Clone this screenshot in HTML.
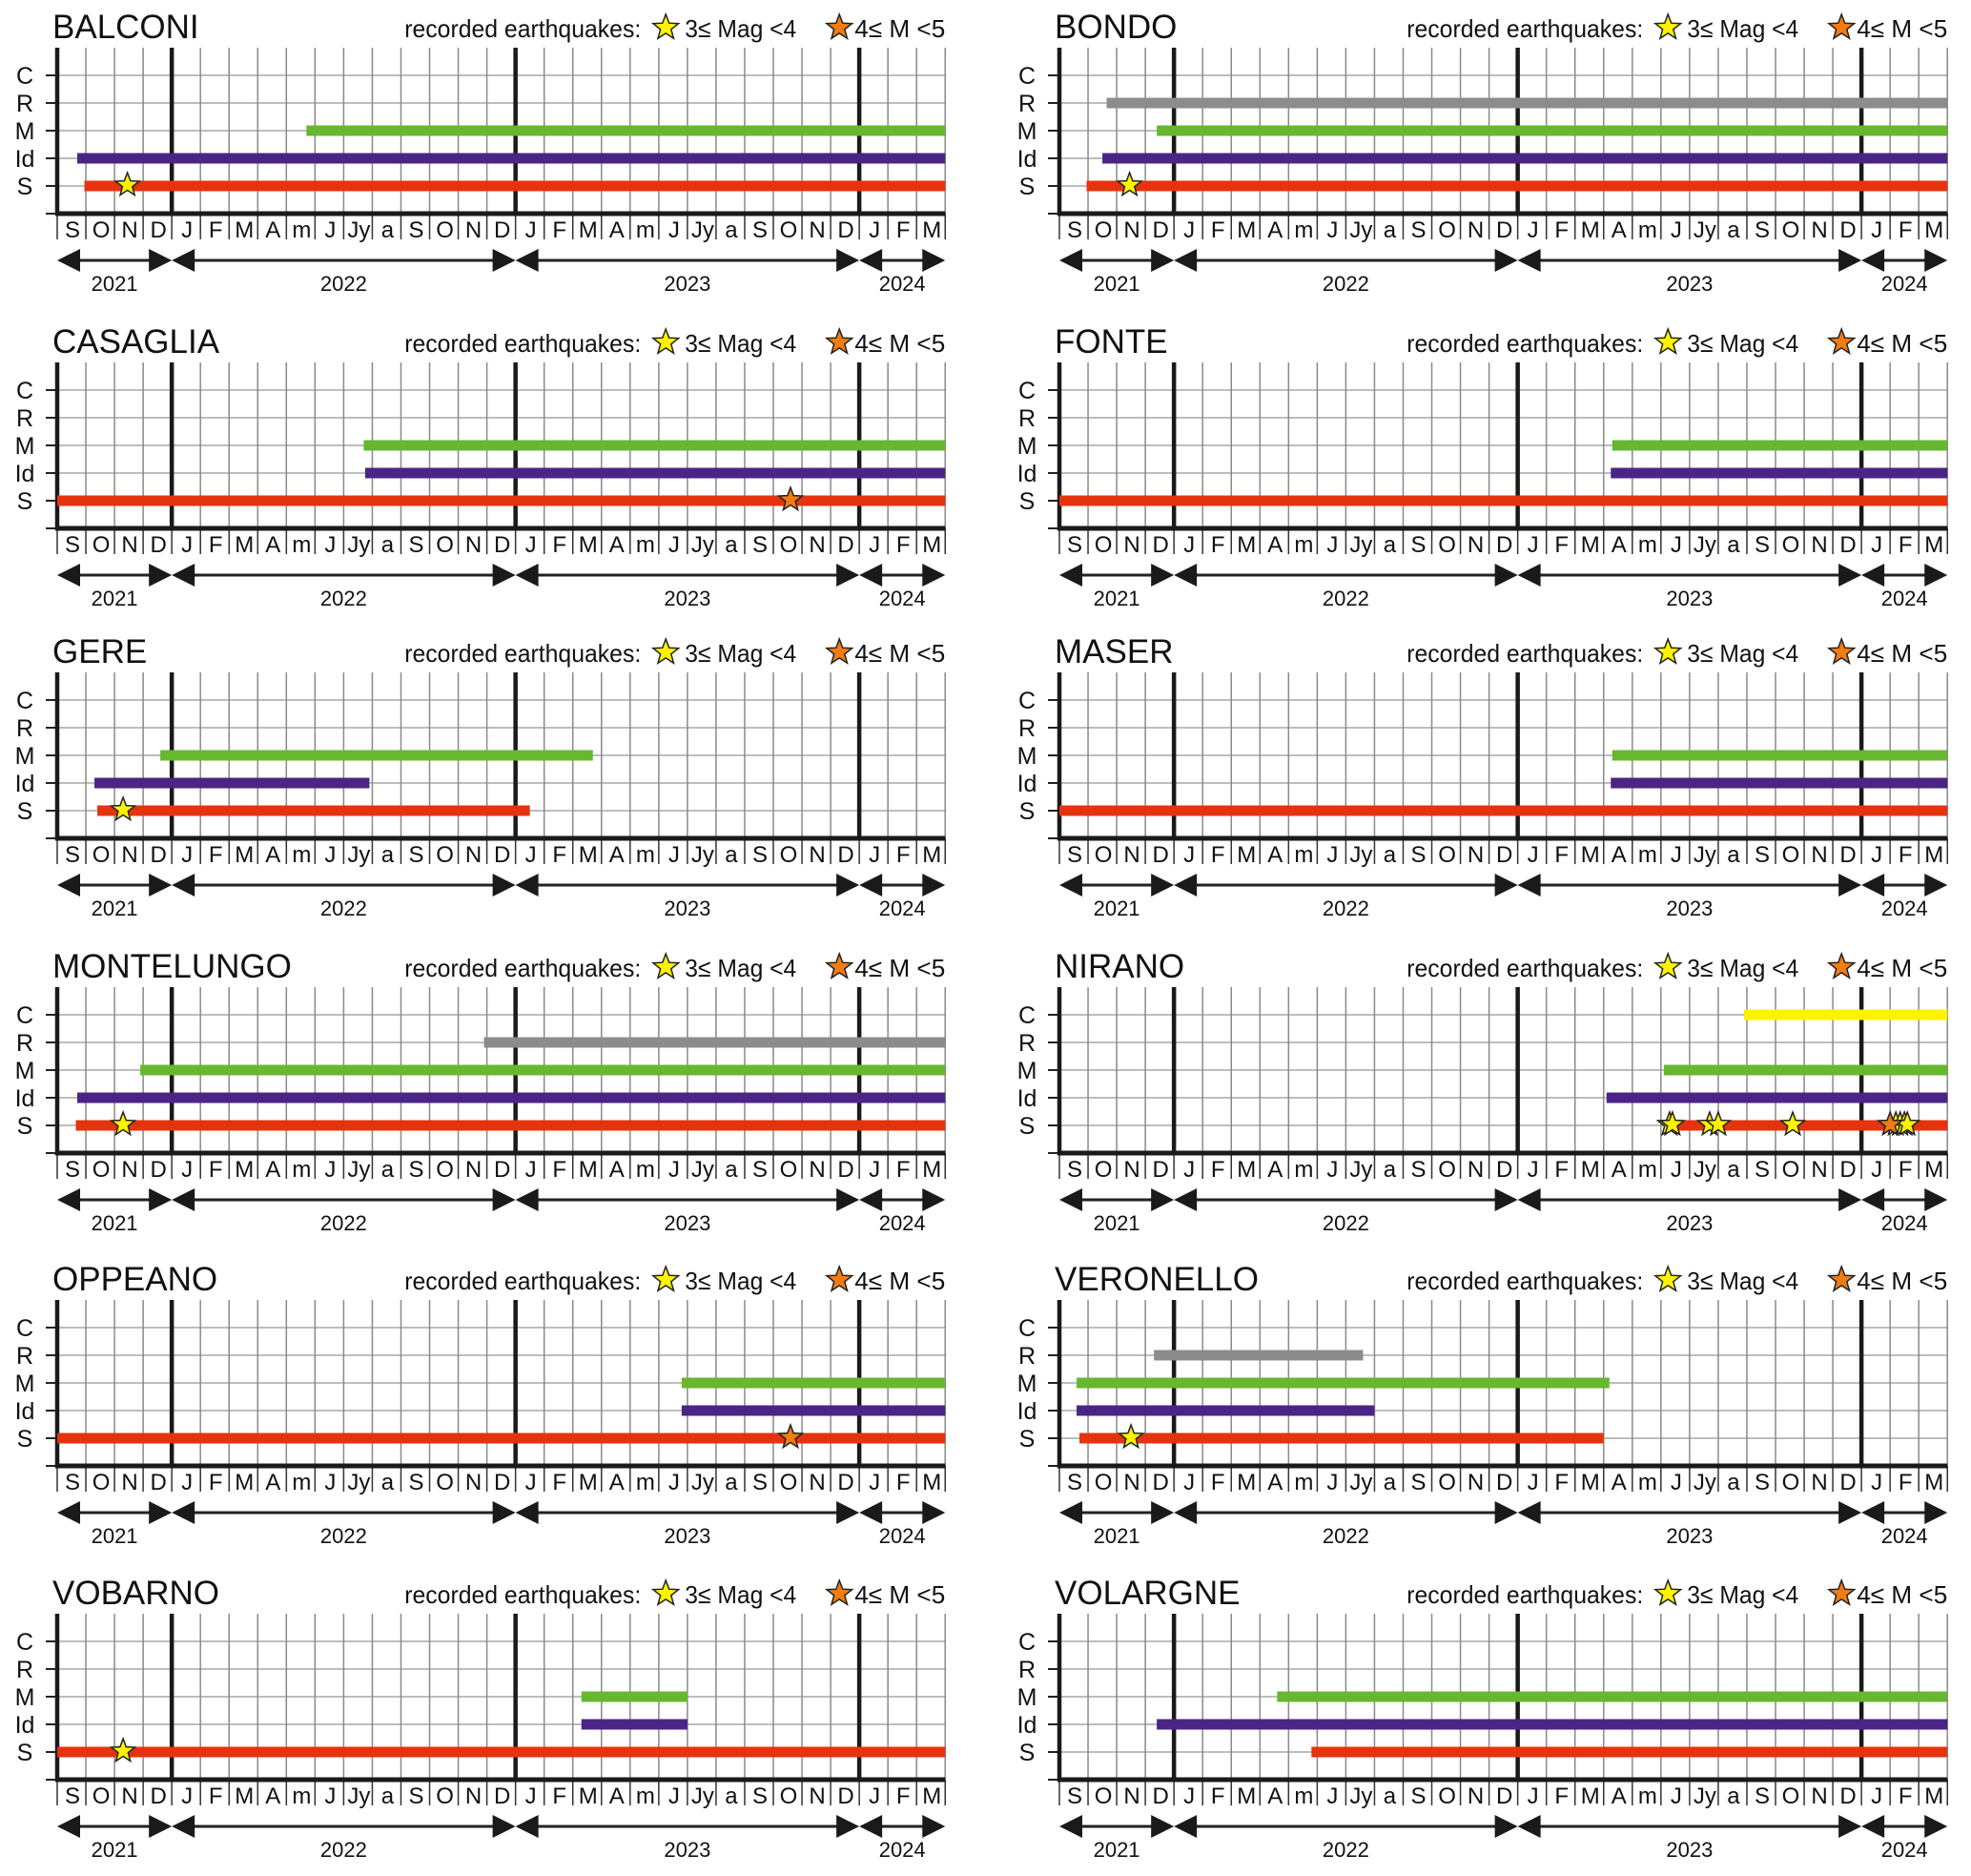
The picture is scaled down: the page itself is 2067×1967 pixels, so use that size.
<!DOCTYPE html>
<html><head><meta charset="utf-8"><style>
html,body{margin:0;padding:0;background:#fff;}
svg{display:block;font-family:"Liberation Sans",Arial,sans-serif;}
</style></head><body>
<svg id="chart" width="2067" height="1967" viewBox="0 0 2067 1967" xmlns="http://www.w3.org/2000/svg"></svg>
<script>
const stations = ["BALCONI","BONDO","CASAGLIA","FONTE","GERE","MASER","MONTELUNGO","NIRANO","OPPEANO","VERONELLO","VOBARNO","VOLARGNE"];
const rowLabels = ["C","R","M","Id","S"];
const monthLabels = ["S","O","N","D","J","F","M","A","m","J","Jy","a","S","O","N","D","J","F","M","A","m","J","Jy","a","S","O","N","D","J","F","M"];
const yearLabels = ["2021","2022","2023","2024"];
const yearStart = [0,4,16,28];
const yearEnd = [4,16,28,31];
// bars: station index, row index, start month index, end month index
const barStation = [0,0,0, 1,1,1,1, 2,2,2, 3,3,3, 4,4,4, 5,5,5, 6,6,6,6, 7,7,7,7, 8,8,8, 9,9,9,9, 10,10,10, 11,11,11];
const barRow =     [2,3,4, 1,2,3,4, 2,3,4, 2,3,4, 2,3,4, 2,3,4, 1,2,3,4, 0,2,3,4, 2,3,4, 1,2,3,4, 2,3,4, 2,3,4];
const barStart =   [8.7,0.7,0.95, 1.65,3.4,1.5,0.95, 10.7,10.75,0, 19.3,19.25,0, 3.6,1.3,1.4, 19.3,19.25,0, 14.9,2.9,0.7,0.65, 23.9,21.1,19.1,21.3, 21.8,21.8,0, 3.3,0.6,0.6,0.7, 18.3,18.3,0, 7.6,3.4,8.8];
const barEnd =     [31,31,31, 31,31,31,31, 31,31,31, 31,31,31, 18.7,10.9,16.5, 31,31,31, 31,31,31,31, 31,31,31,31, 31,31,31, 10.6,19.2,11.0,19.0, 22.0,22.0,31, 31,31,31];
// earthquakes: station index, month index, magnitude class (3 or 4)
const quakeStation = [0,1,2,4,6,7,7,7,7,7,7,7,7,7,7,8,9,10];
const quakeIdx =     [2.45,2.45,25.6,2.3,2.3,21.3,21.4,22.7,23.0,25.6,29.2,29.35,29.5,29.6,29.0,25.6,2.5,2.3];
const quakeMag =     [3,3,4,3,3,3,3,3,3,3,3,3,3,3,4,4,3,3];

const rowColors = ["#fff200","#8c8c8c","#67b72f","#4a2585","#e5330e"];
const svg = document.getElementById('chart');
const NS = "http://www.w3.org/2000/svg";
const COL = 30.04;
const panelX = [60,1111];
const panelCY = [79,409,734,1064,1392,1721];
const ROWH = 29;

function mk(tag, attrs, parent){
  const e = document.createElementNS(NS, tag);
  for (const k in attrs) e.setAttribute(k, attrs[k]);
  (parent||svg).appendChild(e);
  return e;
}
function xScale(p, idx){ return panelX[p%2] + idx*COL; }
function yRow(p, r){ return panelCY[Math.floor(p/2)] + r*ROWH; }
function starPts(cx, cy, R){
  const r = R*0.42, pts=[];
  for(let i=0;i<10;i++){
    const a = -Math.PI/2 + i*Math.PI/5, rr = i%2?r:R;
    pts.push((cx+rr*Math.cos(a)).toFixed(1)+","+(cy+rr*Math.sin(a)).toFixed(1));
  }
  return pts.join(" ");
}

stations.forEach((name, p) => {
  const g = mk('g', {});
  
  
  const x0 = xScale(p,0), x1 = xScale(p,31);
  const cy = yRow(p,0), top = cy-29, bot = cy + 5*ROWH;
  // title
  const t = mk('text', {x: x0-5, y: cy-39, 'font-size': 35, fill:'#111'}, g);
  t.textContent = name;
  
  
  // legend
  const lg = mk('g', {}, g);
  
  
  const ly = cy-40;
  const lt = mk('text', {x: x1-567, y: ly, 'font-size': 26, fill:'#111', textLength: 248, lengthAdjust:'spacingAndGlyphs'}, lg);
  lt.textContent = 'recorded earthquakes:';
  mk('polygon', {points: starPts(x1-293, ly-10, 14), fill:'#fff200', stroke:'#222', 'stroke-width':1.5}, lg);
  const l1 = mk('text', {x: x1-273, y: ly, 'font-size': 26, fill:'#111', textLength: 117, lengthAdjust:'spacingAndGlyphs'}, lg);
  l1.textContent = '3≤ Mag <4';
  mk('polygon', {points: starPts(x1-111, ly-10, 14), fill:'#f07c12', stroke:'#222', 'stroke-width':1.5}, lg);
  const l2 = mk('text', {x: x1-95, y: ly, 'font-size': 26, fill:'#111', textLength: 95, lengthAdjust:'spacingAndGlyphs'}, lg);
  l2.textContent = '4≤ M <5';
  // horizontal grid
  rowLabels.forEach((rl, r) => {
    const y = yRow(p,r);
    mk('line', {x1:x0, x2:x1, y1:y, y2:y, stroke:'#bdbdbd', 'stroke-width':2}, g);
    mk('line', {x1:x0-12, x2:x0, y1:y, y2:y, stroke:'#222', 'stroke-width':2}, g);
    const tl = mk('text', {x: x0-34, y: y+9, 'font-size': 25, 'text-anchor':'middle', fill:'#111'}, g);
    tl.textContent = rl;
    
    
  });
  mk('line', {x1:x0-12, x2:x0, y1:bot, y2:bot, stroke:'#222', 'stroke-width':2}, g);
  // vertical grid + month labels
  for (let i=0;i<=31;i++){
    const x = xScale(p,i);
    const isYear = yearStart.indexOf(i) > 0;
    if (i>0) mk('line', {x1:x, x2:x, y1:top, y2:bot, stroke: isYear?'#1a1a1a':'#8a8a8a', 'stroke-width': isYear?4.5:1.5}, g);
    mk('line', {x1:x, x2:x, y1:bot, y2:bot+27, stroke:'#333', 'stroke-width':1.5}, g);
    if (i<31){
      const ml = mk('text', {x: x+COL/2+1, y: bot+25, 'font-size': 24, 'text-anchor':'middle', fill:'#111'}, g);
      ml.textContent = monthLabels[i];
      
      
    }
  }
  // axes
  mk('line', {x1:x0, x2:x0, y1:top, y2:bot+2, stroke:'#1a1a1a', 'stroke-width':4.5}, g);
  mk('line', {x1:x0-2, x2:x1, y1:bot, y2:bot, stroke:'#1a1a1a', 'stroke-width':5}, g);
  // bars
  barStation.forEach((s, i) => {
    if (s !== p) return;
    const xa = xScale(p, barStart[i]), xb = xScale(p, barEnd[i]);
    const b = mk('rect', {x: xa, y: yRow(p, barRow[i]) - 5.5, width: xb-xa, height: 11, fill: rowColors[barRow[i]]}, g);
    
    
  });
  // quakes
  quakeStation.forEach((s, i) => {
    if (s !== p) return;
    const st = mk('polygon', {points: starPts(xScale(p, quakeIdx[i]), yRow(p,4)-1, 13), fill: quakeMag[i]===4?'#f07c12':'#fff200', stroke:'#222', 'stroke-width':1.5}, g);
    
    
  });
  // year arrows
  const ay = bot + 49;
  yearLabels.forEach((yl, k) => {
    const xa = xScale(p, yearStart[k]), xb = xScale(p, yearEnd[k]);
    mk('line', {x1:xa+10, x2:xb-10, y1:ay, y2:ay, stroke:'#222', 'stroke-width':3}, g);
    mk('polygon', {points: `${xa},${ay} ${xa+24},${ay-12} ${xa+24},${ay+12}`, fill:'#1a1a1a'}, g);
    mk('polygon', {points: `${xb},${ay} ${xb-24},${ay-12} ${xb-24},${ay+12}`, fill:'#1a1a1a'}, g);
    const yt = mk('text', {x:(xa+xb)/2, y: ay+32, 'font-size': 22, 'text-anchor':'middle', fill:'#111'}, g);
    yt.textContent = yl;
    
    
  });
});
</script>
</body></html>
